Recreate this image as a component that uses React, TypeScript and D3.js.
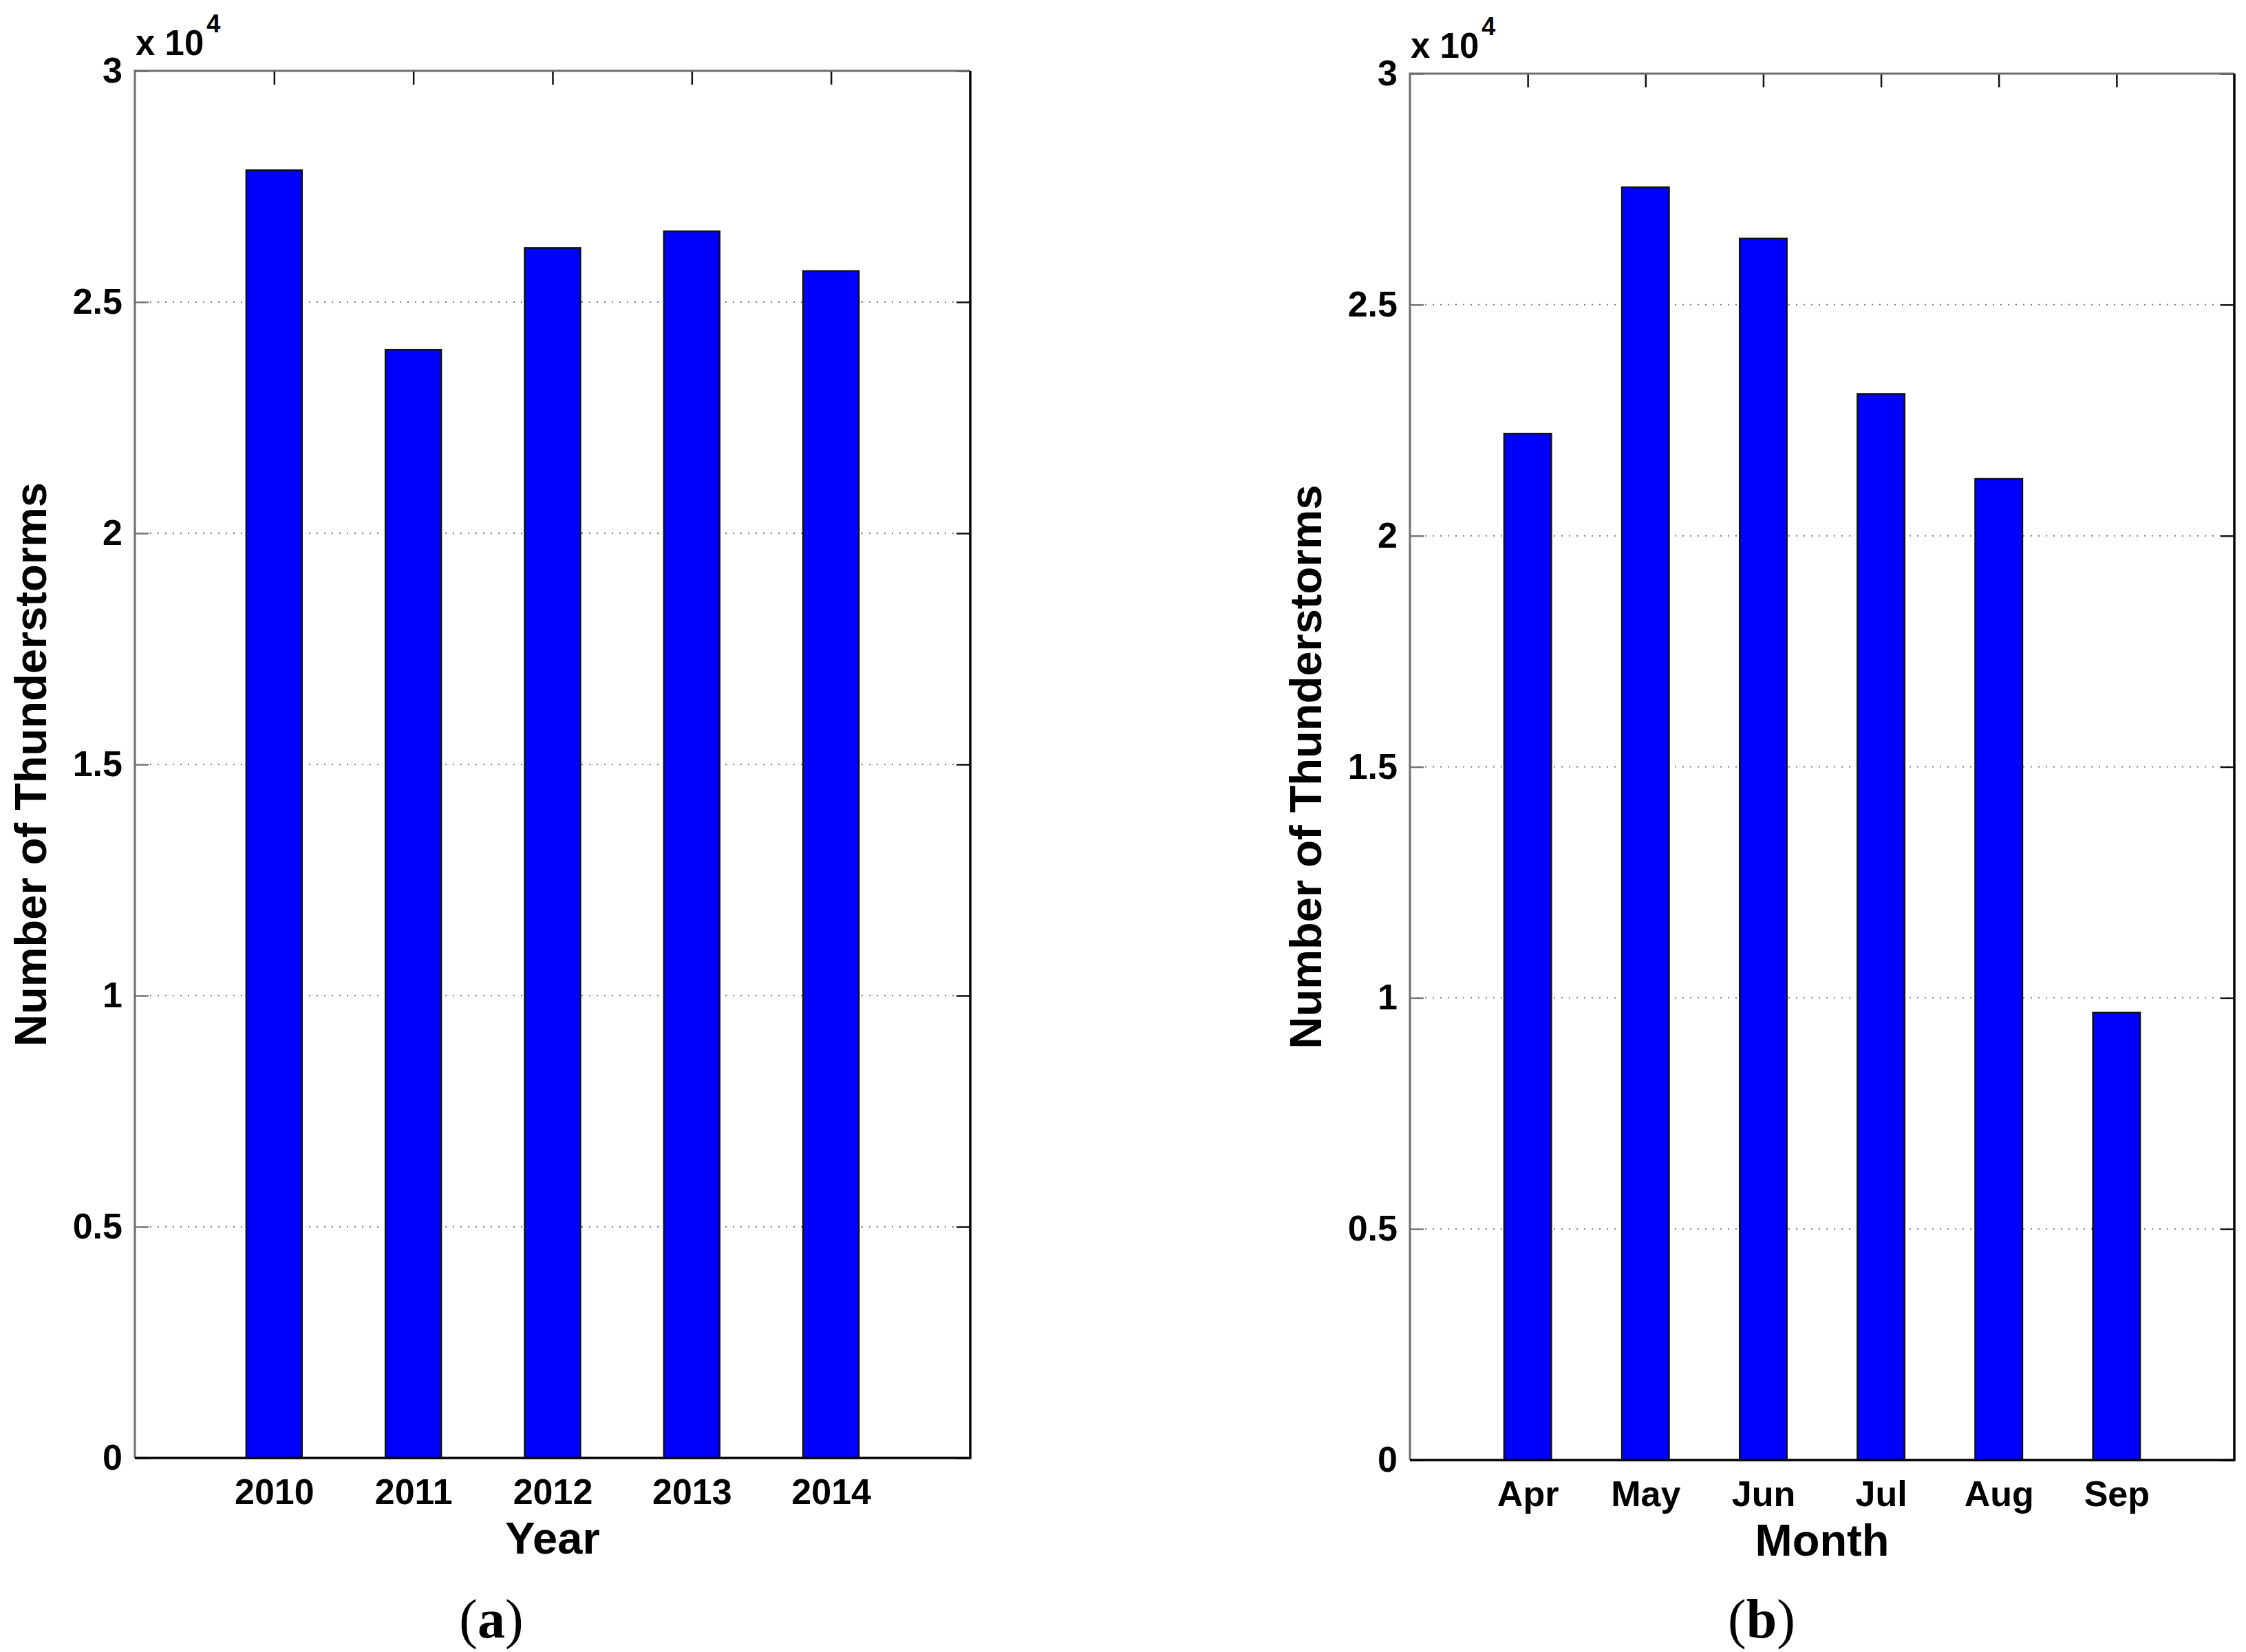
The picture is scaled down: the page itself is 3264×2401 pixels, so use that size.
import { useRef, useEffect } from 'react'
import * as d3 from 'd3'

const YEARS = ['2010', '2011', '2012', '2013', '2014']
const YEAR_COUNTS = [27850, 23970, 26170, 26530, 25670]
const MONTHS = ['Apr', 'May', 'Jun', 'Jul', 'Aug', 'Sep']
const MONTH_COUNTS = [22210, 27540, 26430, 23070, 21230, 9680]
const Y_TICKS = [0, 5000, 10000, 15000, 20000, 25000, 30000]
const GRID_TICKS = [5000, 10000, 15000, 20000, 25000]

const W = 3264
const H = 2401
const SANS = '"Liberation Sans", Arial, sans-serif'
const SERIF = '"Liberation Serif", "Times New Roman", serif'
const BAR_WIDTH = 0.4

type PanelSpec = {
  categories: string[]
  values: number[]
  xLabel: string
  caption: string
  left: number
  right: number
  top: number
  bottom: number
  captionX: number
}

const PANELS: PanelSpec[] = [
  { categories: YEARS, values: YEAR_COUNTS, xLabel: 'Year', caption: 'a', left: 196, right: 1410, top: 103, bottom: 2119, captionX: 714 },
  { categories: MONTHS, values: MONTH_COUNTS, xLabel: 'Month', caption: 'b', left: 2049, right: 3247, top: 107, bottom: 2122, captionX: 2560 },
]

function drawPanel(svg: d3.Selection<SVGSVGElement, unknown, null, undefined>, p: PanelSpec) {
  const n = p.categories.length
  const x = d3.scaleLinear().domain([0, n + 1]).range([p.left, p.right])
  const y = d3.scaleLinear().domain([0, 30000]).range([p.bottom, p.top])
  const idx = d3.range(1, n + 1)

  const g = svg.append('g')

  // dotted grid
  g.selectAll('.grid')
    .data(GRID_TICKS)
    .join('line')
    .attr('x1', p.left)
    .attr('x2', p.right)
    .attr('y1', (d) => y(d))
    .attr('y2', (d) => y(d))
    .attr('stroke', '#7a7a7a')
    .attr('stroke-width', 2)
    .attr('stroke-dasharray', '2 9')

  // left axis with labels
  const yl = g.append('g')
    .attr('transform', `translate(${p.left},0)`)
    .call(
      d3.axisLeft(y)
        .tickValues(Y_TICKS)
        .tickSizeInner(-20)
        .tickSizeOuter(0)
        .tickPadding(18)
        .tickFormat((d) => String(+d / 10000)),
    )
  yl.select('.domain').remove()
  yl.selectAll('line').attr('stroke', '#777').attr('stroke-width', 2.5)
  yl.selectAll('text')
    .attr('font-family', SANS)
    .attr('font-weight', 'bold')
    .attr('font-size', 52)
    .attr('fill', '#000')

  const yr = g.append('g')
    .attr('transform', `translate(${p.right},0)`)
    .call(d3.axisRight(y).tickValues(Y_TICKS).tickSizeInner(-20).tickSizeOuter(0).tickFormat(() => ''))
  yr.select('.domain').remove()
  yr.selectAll('line').attr('stroke', '#111').attr('stroke-width', 2.5)

  const xt = g.append('g')
    .attr('transform', `translate(0,${p.top})`)
    .call(d3.axisTop(x).tickValues(idx).tickSizeInner(-20).tickSizeOuter(0).tickFormat(() => ''))
  xt.select('.domain').remove()
  xt.selectAll('line').attr('stroke', '#111').attr('stroke-width', 2.5)

  const xb = g.append('g')
    .attr('transform', `translate(0,${p.bottom})`)
    .call(
      d3.axisBottom(x)
        .tickValues(idx)
        .tickSizeInner(-20)
        .tickSizeOuter(0)
        .tickPadding(30)
        .tickFormat((d) => p.categories[+d - 1]),
    )
  xb.select('.domain').remove()
  xb.selectAll('line').attr('stroke', '#111').attr('stroke-width', 2.5)
  xb.selectAll('text')
    .attr('font-family', SANS)
    .attr('font-weight', 'bold')
    .attr('font-size', 52)
    .attr('fill', '#000')

  // bars
  g.selectAll('.bar')
    .data(p.values)
    .join('rect')
    .attr('x', (_d, i) => x(i + 1 - BAR_WIDTH / 2))
    .attr('width', (_d, i) => x(i + 1 + BAR_WIDTH / 2) - x(i + 1 - BAR_WIDTH / 2))
    .attr('y', (d) => y(d))
    .attr('height', (d) => y(0) - y(d))
    .attr('fill', '#0000ff')
    .attr('stroke', '#111')
    .attr('stroke-width', 2.5)

  // box
  g.append('path')
    .attr('d', `M${p.left},${p.bottom}V${p.top}H${p.right}`)
    .attr('fill', 'none')
    .attr('stroke', '#6e6e6e')
    .attr('stroke-width', 3)
  g.append('path')
    .attr('d', `M${p.left},${p.bottom}H${p.right}V${p.top}`)
    .attr('fill', 'none')
    .attr('stroke', '#000')
    .attr('stroke-width', 3.5)

  // exponent
  const ex = g.append('text')
    .attr('x', p.left + 1)
    .attr('y', p.top - 23)
    .attr('font-family', SANS)
    .attr('font-weight', 'bold')
    .attr('font-size', 51)
    .attr('fill', '#000')
  ex.append('tspan').text('x 10')
  ex.append('tspan').attr('dx', 4).attr('dy', -33).attr('font-size', 36).text('4')

  // axis labels
  g.append('text')
    .attr('x', (p.left + p.right) / 2)
    .attr('y', p.bottom + 139)
    .attr('text-anchor', 'middle')
    .attr('font-family', SANS)
    .attr('font-weight', 'bold')
    .attr('font-size', 65)
    .attr('fill', '#000')
    .text(p.xLabel)

  g.append('text')
    .attr('transform', `translate(${p.left - 129},${(p.top + p.bottom) / 2}) rotate(-90)`)
    .attr('text-anchor', 'middle')
    .attr('font-family', SANS)
    .attr('font-weight', 'bold')
    .attr('font-size', 65)
    .attr('fill', '#000')
    .text('Number of Thunderstorms')

  // caption
  const cap = g.append('text')
    .attr('x', p.captionX)
    .attr('y', 2380)
    .attr('text-anchor', 'middle')
    .attr('font-family', SERIF)
    .attr('font-size', 80)
    .attr('fill', '#000')
  cap.append('tspan').text('(')
  cap.append('tspan').attr('font-weight', 'bold').text(p.caption)
  cap.append('tspan').text(')')
}

export default function App() {
  const svgRef = useRef<SVGSVGElement>(null)

  useEffect(() => {
    if (!svgRef.current) return
    const svg = d3.select(svgRef.current)
    svg.selectAll('*').remove()
    svg.append('rect').attr('width', W).attr('height', H).attr('fill', '#fff')
    PANELS.forEach((p) => drawPanel(svg, p))
  }, [])

  return (
    <svg
      ref={svgRef}
      width={W}
      height={H}
      style={{ position: 'absolute', left: 0, top: 0, display: 'block' }}
    />
  )
}
